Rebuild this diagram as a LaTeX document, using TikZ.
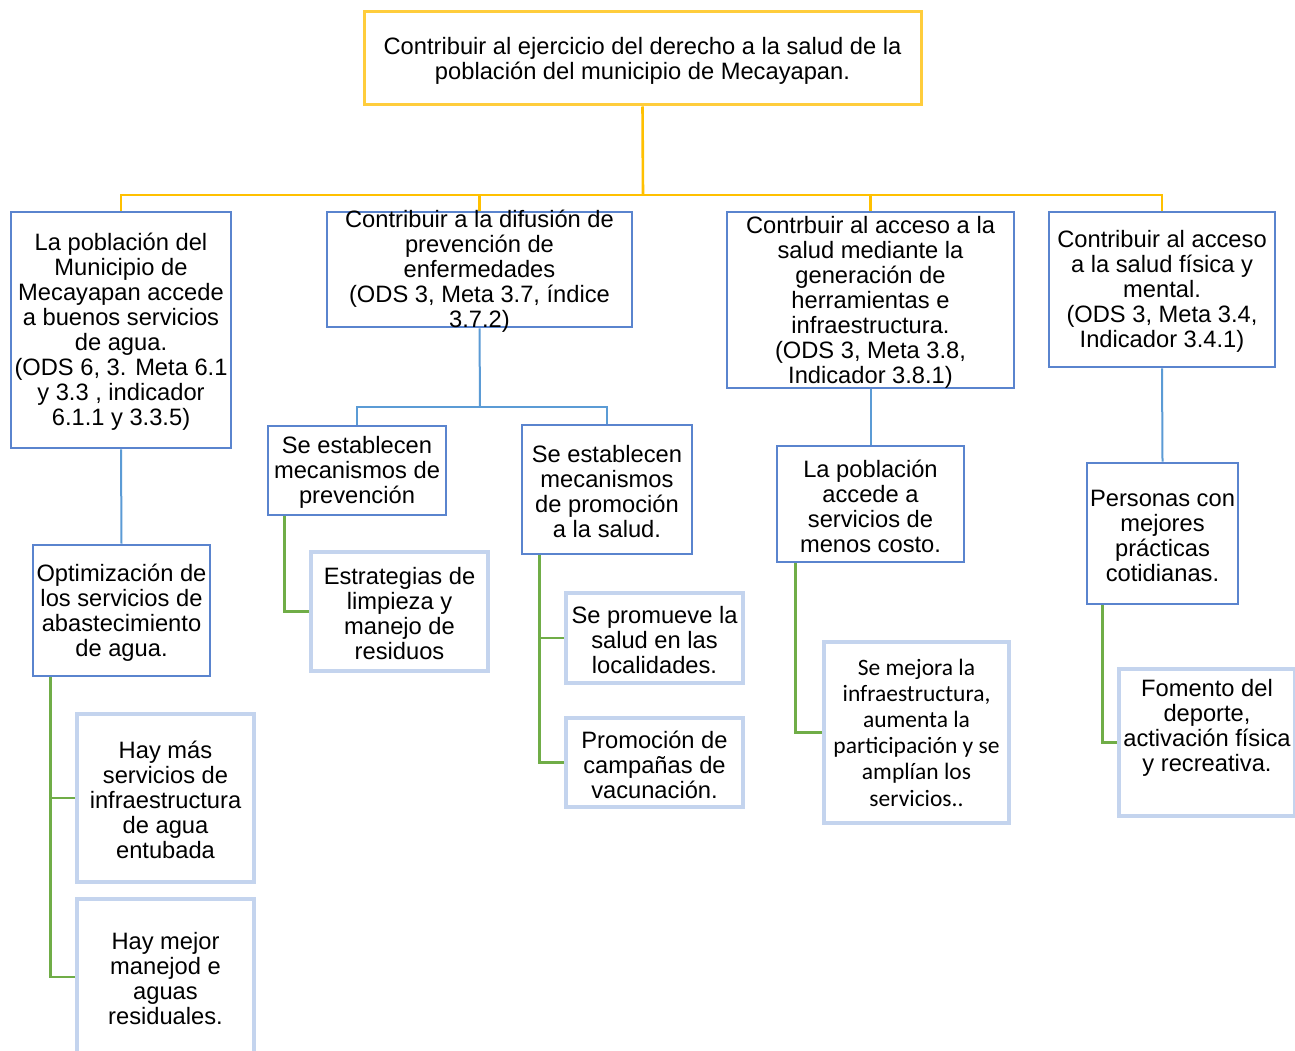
\documentclass[tikz,border=0pt]{standalone}
\usepackage{fontspec}
\setmainfont{Liberation Sans}
\newfontfamily\calib{Carlito}
\definecolor{yelline}{RGB}{255,192,0}
\definecolor{yelbox}{RGB}{255,205,60}
\definecolor{bluebox}{RGB}{90,132,206}
\definecolor{lightbox}{RGB}{196,212,238}
\definecolor{blueline}{RGB}{91,155,213}
\definecolor{greenline}{RGB}{112,173,71}
\tikzset{
  topbox/.style={draw=yelbox, line width=3pt, fill=white, inner sep=0pt},
  midbox/.style={draw=bluebox, line width=2.8pt, fill=white, inner sep=0pt},
  lowbox/.style={draw=lightbox, line width=3.2pt, fill=white, inner sep=0pt},
  txt/.style={align=center, inner sep=0pt, yshift=-2pt, font=\fontsize{23.7}{25}\selectfont, text=black},
  txtc/.style={align=center, inner sep=0pt, font=\calib\fontsize{23.5}{26.2}\selectfont, text=black},
  yconn/.style={draw=yelline, line width=2.6pt},
  bconn/.style={draw=blueline, line width=2pt},
  gconn/.style={draw=greenline, line width=2.4pt},
}
\begin{document}
\begin{tikzpicture}[x=1pt, y=-1pt]
\useasboundingbox[fill=white] (0,0) rectangle (1295,1051);
% boxes
\node[topbox, minimum width=557, minimum height=93] (T) at (642.5,58.5) {};
\node[midbox, minimum width=220, minimum height=236] (A) at (121,330) {};
\node[midbox, minimum width=305, minimum height=115] (B) at (479.5,269.5) {};
\node[midbox, minimum width=287, minimum height=176] (C) at (870.5,300) {};
\node[midbox, minimum width=226, minimum height=155] (D) at (1162,289.5) {};
\node[midbox, minimum width=177, minimum height=131] (G) at (121.5,610.5) {};
\node[midbox, minimum width=178, minimum height=89] (E) at (357,470.5) {};
\node[midbox, minimum width=170, minimum height=129] (F) at (607,489.5) {};
\node[midbox, minimum width=187, minimum height=116] (H) at (870.5,504) {};
\node[midbox, minimum width=151, minimum height=141] (I) at (1162.5,533.5) {};
\node[lowbox, minimum width=177, minimum height=168] (J) at (165.5,798) {};
\node[lowbox, minimum width=177, minimum height=156] (K) at (165.5,977) {};
\node[lowbox, minimum width=177, minimum height=119] (L) at (399.5,611.5) {};
\node[lowbox, minimum width=177, minimum height=90] (M) at (654.5,638) {};
\node[lowbox, minimum width=177, minimum height=89] (N) at (654.5,762.5) {};
\node[lowbox, minimum width=185, minimum height=181] (O) at (916.5,732.5) {};
\node[lowbox, minimum width=176, minimum height=147] (P) at (1207,742.5) {};
% texts
\node[txt] (Tt) at (642.5,59) {Contribuir al ejercicio del derecho a la salud de la\\población del municipio de Mecayapan.};
\node[txt] (At) at (A) {La población del\\Municipio de\\Mecayapan accede\\a buenos servicios\\de agua.\\(ODS 6, 3. Meta 6.1\\y 3.3 , indicador\\6.1.1 y 3.3.5)};
\node[txt] (Bt) at (B) {Contribuir a la difusión de\\prevención de\\enfermedades\\(ODS 3, Meta 3.7, índice\\3.7.2)};
\node[txt] (Ct) at (C) {Contrbuir al acceso a la\\salud mediante la\\generación de\\herramientas e\\infraestructura.\\(ODS 3, Meta 3.8,\\Indicador 3.8.1)};
\node[txt] (Dt) at (D) {Contribuir al acceso\\a la salud física y\\mental.\\(ODS 3, Meta 3.4,\\Indicador 3.4.1)};
\node[txt] (Gt) at (G) {Optimización de\\los servicios de\\abastecimiento\\de agua.};
\node[txt] (Et) at (E) {Se establecen\\mecanismos de\\prevención};
\node[txt] (Ft) at (F) {Se establecen\\mecanismos\\de promoción\\a la salud.};
\node[txt] (Ht) at (H) {La población\\accede a\\servicios de\\menos costo.};
\node[txt] (It) at (I) {Personas con\\mejores\\prácticas\\cotidianas.};
\node[txt] (Jt) at (J) {Hay más\\servicios de\\infraestructura\\de agua\\entubada};
\node[txt] (Kt) at (K) {Hay mejor\\manejod e\\aguas\\residuales.};
\node[txt] (Lt) at (L) {Estrategias de\\limpieza y\\manejo de\\residuos};
\node[txt] (Mt) at (M) {Se promueve la\\salud en las\\localidades.};
\node[txt] (Nt) at (N) {Promoción de\\campañas de\\vacunación.};
\node[txtc] (Ot) at (O) {Se mejora la\\infraestructura,\\aumenta la\\participación y se\\amplían los\\servicios..};
\node[txt] (Pt) at (1207,726) {Fomento del\\deporte,\\activación física\\y recreativa.};
% yellow connectors
\coordinate (ybus) at (643,195);
\draw[yconn] (T.south) -- (ybus);
\draw[yconn] (A.north) -- (A.north |- ybus) -- (D.north |- ybus) -- (D.north);
\draw[yconn] (B.north) -- (B.north |- ybus);
\draw[yconn] (C.north) -- (C.north |- ybus);
% blue connectors
\coordinate (bbus) at (480,407);
\draw[bconn] (A.south) -- (G.north);
\draw[bconn] (B.south) -- (bbus);
\draw[bconn] (E.north) -- (E.north |- bbus) -- (F.north |- bbus) -- (F.north);
\draw[bconn] (C.south) -- (H.north);
\draw[bconn] (D.south) -- (I.north);
% green connectors
\draw[gconn] ([xshift=19pt]G.south west) |- (J.west);
\draw[gconn] ([xshift=19pt]G.south west) |- (K.west);
\draw[gconn] ([xshift=18pt]E.south west) |- (L.west);
\draw[gconn] ([xshift=19pt]F.south west) |- (M.west);
\draw[gconn] ([xshift=19pt]F.south west) |- (N.west);
\draw[gconn] ([xshift=20pt]H.south west) |- (O.west);
\draw[gconn] ([xshift=17pt]I.south west) |- (P.west);
\end{tikzpicture}
\end{document}
